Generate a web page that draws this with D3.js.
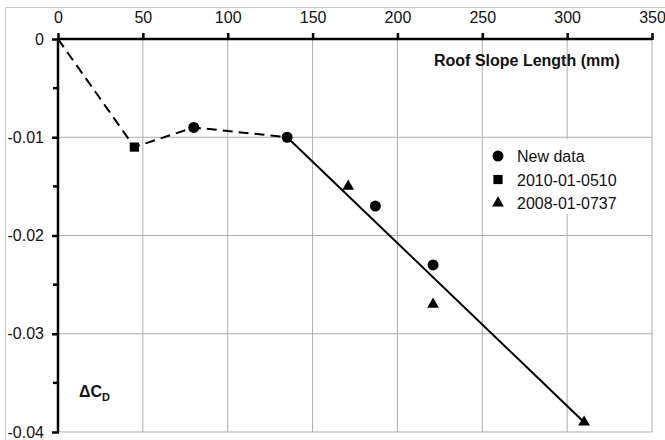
<!DOCTYPE html>
<html>
<head>
<meta charset="utf-8">
<script src="https://cdn.jsdelivr.net/npm/d3@7"></script>
<style>
  body { margin: 0; background: #fff; }
  text { font-family: "Liberation Sans", Arial, sans-serif; fill: #111; }
</style>
</head>
<body>
<div id="container"></div>
<script>
let w = 665;
let h = 440;

// data
let newX = [80, 135, 187, 221];
let newY = [-0.009, -0.010, -0.017, -0.023];
let oldSqX = [45];
let oldSqY = [-0.011];
let oldTriX = [171, 221, 310];
let oldTriY = [-0.015, -0.027, -0.039];
let dashX = [0, 45, 80, 135];
let dashY = [0, -0.011, -0.009, -0.010];
let fitX = [135, 310];
let fitY = [-0.010, -0.039];
let xTicks = [0, 50, 100, 150, 200, 250, 300, 350];
let yTicks = [0, -0.01, -0.02, -0.03, -0.04];
let yMinor = [-0.005, -0.015, -0.025, -0.035];
let legendNames = ["New data", "2010-01-0510", "2008-01-0737"];

let viz = d3.select("#container").append("svg")
    .attr("width", w)
    .attr("height", h)
;

// outer frame
viz.append("rect")
  .attr("x", 5.5).attr("y", 7.5)
  .attr("width", 700).attr("height", 500)
  .attr("fill", "none")
  .attr("stroke", "#c8c8c8")
;

let xScale = d3.scaleLinear().domain([0, 350]).range([58, 652]);
let yScale = d3.scaleLinear().domain([0, -0.04]).range([39, 432]);

// grid
viz.append("g").selectAll("line").data(xTicks.slice(1)).enter()
  .append("line")
    .attr("x1", d => xScale(d)).attr("x2", d => xScale(d))
    .attr("y1", yScale(0)).attr("y2", yScale(-0.04))
    .attr("stroke", "#adadad")
;
viz.append("g").selectAll("line").data(yTicks.slice(1)).enter()
  .append("line")
    .attr("x1", xScale(0)).attr("x2", xScale(350))
    .attr("y1", d => yScale(d)).attr("y2", d => yScale(d))
    .attr("stroke", "#adadad")
;

// x axis on top
let xAxis = d3.axisTop(xScale).tickValues(xTicks).tickSize(6).tickPadding(10);
let xAxisGroup = viz.append("g")
    .attr("class", "xaxisgroup")
    .attr("transform", "translate(0," + yScale(0) + ")")
;
xAxisGroup.call(xAxis);
xAxisGroup.select("path").attr("stroke", "#000").attr("stroke-width", 2.5).attr("d", "M" + xScale(0) + ",0H" + xScale(350));
xAxisGroup.selectAll("line").attr("stroke", "#000").attr("stroke-width", 2.5).attr("y2", -6).attr("y1", 1);
xAxisGroup.selectAll("text").style("font-size", "16px").attr("fill", "#111");

// y axis
let yAxis = d3.axisLeft(yScale).tickValues(yTicks).tickSize(6).tickPadding(8)
  .tickFormat(d => d == 0 ? "0" : d3.format(".2f")(d).replace("−", "-"));
let yAxisGroup = viz.append("g")
    .attr("class", "yaxisgroup")
    .attr("transform", "translate(" + xScale(0) + ",0)")
;
yAxisGroup.call(yAxis);
yAxisGroup.select("path").attr("stroke", "#000").attr("stroke-width", 2.5).attr("d", "M0," + yScale(0) + "V" + yScale(-0.04));
yAxisGroup.selectAll("line").attr("stroke", "#000").attr("stroke-width", 2.5).attr("x2", -6).attr("x1", 1);
yAxisGroup.selectAll("text").style("font-size", "16px").attr("fill", "#111");
yAxisGroup.selectAll(".minor").data(yMinor).enter()
  .append("line")
    .attr("class", "minor")
    .attr("x1", -5).attr("x2", 0)
    .attr("y1", d => yScale(d)).attr("y2", d => yScale(d))
    .attr("stroke", "#000").attr("stroke-width", 2.5)
;

// lines
let line = d3.line().x(d => xScale(d[0])).y(d => yScale(d[1]));
viz.append("path")
  .datum(d3.zip(dashX, dashY))
  .attr("d", line)
  .attr("fill", "none")
  .attr("stroke", "#000")
  .attr("stroke-width", 2)
  .attr("stroke-dasharray", "10,6")
;
viz.append("path")
  .datum(d3.zip(fitX, fitY))
  .attr("d", line)
  .attr("fill", "none")
  .attr("stroke", "#000")
  .attr("stroke-width", 2)
;

// markers
let circleSym = d3.symbol().type(d3.symbolCircle).size(95);
let squareSym = d3.symbol().type(d3.symbolSquare).size(85);
let triSym = d3.symbol().type(d3.symbolTriangle).size(60);

function drawPoints(xs, ys, sym) {
  viz.append("g").selectAll("path").data(d3.zip(xs, ys)).enter()
    .append("path")
      .attr("d", sym)
      .attr("transform", d => "translate(" + xScale(d[0]) + "," + yScale(d[1]) + ")")
      .attr("fill", "#000")
  ;
}
drawPoints(newX, newY, circleSym);
drawPoints(oldSqX, oldSqY, squareSym);
drawPoints(oldTriX, oldTriY, triSym);

// legend
let legend = viz.append("g").attr("transform", "translate(486,139)");
legend.append("rect")
  .attr("width", 150).attr("height", 75)
  .attr("fill", "#fff")
;
let syms = [circleSym, squareSym, triSym];
let items = legend.selectAll(".item").data(legendNames).enter()
  .append("g")
    .attr("class", "item")
    .attr("transform", (d, i) => "translate(12," + (17 + i * 23.5) + ")")
;
items.append("path")
  .attr("d", (d, i) => syms[i]())
  .attr("fill", "#000")
;
items.append("text")
  .text(d => d)
  .attr("x", 19)
  .attr("y", 6)
  .style("font-size", "16px")
;

// axis titles
viz.append("text")
  .text("Roof Slope Length (mm)")
  .attr("x", 434)
  .attr("y", 66)
  .style("font-size", "16px")
  .style("font-weight", "bold")
;
let dc = viz.append("text")
  .attr("x", 79)
  .attr("y", 397)
  .style("font-size", "16px")
  .style("font-weight", "bold")
;
dc.append("tspan").text("ΔC");
dc.append("tspan").text("D").attr("dy", 4).style("font-size", "11px");
</script>
</body>
</html>
